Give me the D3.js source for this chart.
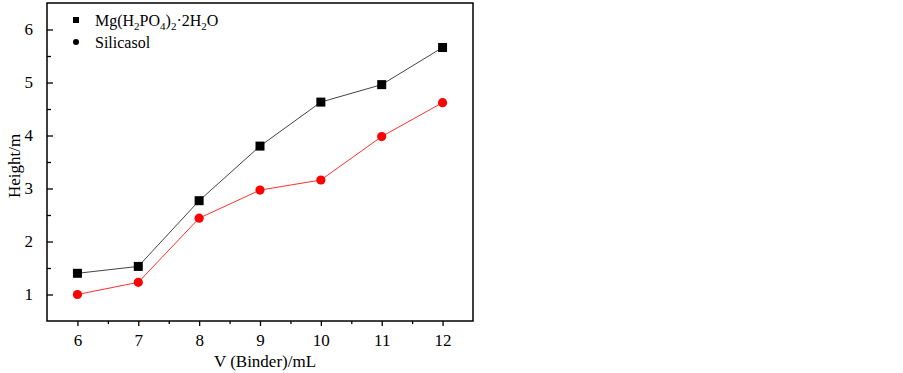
<!DOCTYPE html>
<html><head><meta charset="utf-8">
<script src="https://cdn.jsdelivr.net/npm/d3@7"></script>
<style>body{margin:0;background:#fff}svg{display:block}text{font-family:"Liberation Serif","Times New Roman",serif;fill:#000}</style>
</head><body>
<svg id="c" width="903" height="373"></svg>
<script>
const xValues = [6, 7, 8, 9, 10, 11, 12];
const mgValues = [1.40, 1.53, 2.77, 3.80, 4.63, 4.96, 5.66];
const siValues = [1.00, 1.23, 2.44, 2.97, 3.16, 3.98, 4.62];
const xTicks = [6, 7, 8, 9, 10, 11, 12];
const yTicks = [1, 2, 3, 4, 5, 6];

const svg = d3.select("#c");
const L = 47, R = 473, T = 3, B = 321;
const x = d3.scaleLinear().domain([5.5, 12.5]).range([L, R]);
const y = d3.scaleLinear().domain([0.5, 6.5]).range([B, T]);

// frame
svg.append("rect").attr("x", L).attr("y", T).attr("width", R - L).attr("height", B - T)
  .attr("fill", "none").attr("stroke", "#000").attr("stroke-width", 1.5);

// x axis (outward ticks)
const xMinor = d3.range(6.5, 12.5, 1);
const gx = svg.append("g").attr("transform", `translate(0,${B})`);
gx.call(d3.axisBottom(x).tickValues(xTicks).tickSize(5).tickFormat(d3.format("d")));
gx.append("g").call(d3.axisBottom(x).tickValues(xMinor).tickSize(3).tickFormat(""));
gx.selectAll(".domain").remove();
gx.selectAll("line").attr("stroke", "#000").attr("stroke-width", 1.3);
gx.selectAll("text").attr("font-size", 17).attr("dy", "1.0em");

// y axis (inward ticks)
const yMinor = d3.range(1.5, 6.5, 1);
const gy = svg.append("g").attr("transform", `translate(${L},0)`);
gy.call(d3.axisLeft(y).tickValues(yTicks).tickSize(-6).tickPadding(14).tickFormat(d3.format("d")));
gy.append("g").call(d3.axisLeft(y).tickValues(yMinor).tickSize(-4).tickFormat(""));
gy.selectAll(".domain").remove();
gy.selectAll("line").attr("stroke", "#000").attr("stroke-width", 1.3);
gy.selectAll("text").attr("font-size", 17);

// axis titles
svg.append("text").attr("x", 265).attr("y", 367).attr("text-anchor", "middle")
  .attr("font-size", 17).text("V (Binder)/mL");
svg.append("text").attr("transform", `translate(20,166) rotate(-90)`)
  .attr("text-anchor", "middle").attr("font-size", 17).text("Height/m");

const line = d3.line().x((d, i) => x(xValues[i])).y(d => y(d));

svg.append("path").datum(mgValues).attr("d", line).attr("fill", "none")
  .attr("stroke", "#444").attr("stroke-width", 1);
svg.append("path").datum(siValues).attr("d", line).attr("fill", "none")
  .attr("stroke", "#ff3030").attr("stroke-width", 1);

svg.selectAll(".sq").data(mgValues).enter().append("rect")
  .attr("x", (d, i) => x(xValues[i]) - 4.5).attr("y", d => y(d) - 4.5)
  .attr("width", 9).attr("height", 9).attr("fill", "#000");
svg.selectAll(".ci").data(siValues).enter().append("circle")
  .attr("cx", (d, i) => x(xValues[i])).attr("cy", d => y(d)).attr("r", 4.6).attr("fill", "#ff0000");

// legend
svg.append("rect").attr("x", 73).attr("y", 17).attr("width", 6).attr("height", 6).attr("fill", "#000");
svg.append("circle").attr("cx", 76).attr("cy", 42).attr("r", 3).attr("fill", "#000");
const t1 = svg.append("text").attr("x", 95).attr("y", 26).attr("font-size", 16);
t1.append("tspan").text("Mg(H");
t1.append("tspan").attr("font-size", 11).attr("dy", 4).text("2");
t1.append("tspan").attr("dy", -4).text("PO");
t1.append("tspan").attr("font-size", 11).attr("dy", 4).text("4");
t1.append("tspan").attr("dy", -4).text(")");
t1.append("tspan").attr("font-size", 11).attr("dy", 4).text("2");
t1.append("tspan").attr("dy", -4).text("·2H");
t1.append("tspan").attr("font-size", 11).attr("dy", 4).text("2");
t1.append("tspan").attr("dy", -4).text("O");
svg.append("text").attr("x", 95).attr("y", 48).attr("font-size", 16).text("Silicasol");
</script>
</body></html>
